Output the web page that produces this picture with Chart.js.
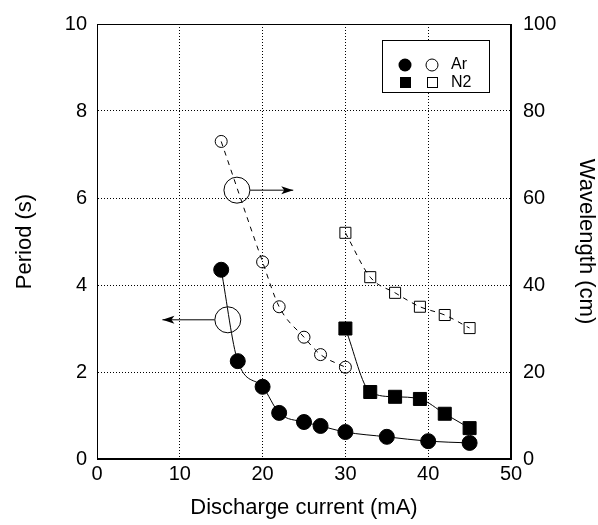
<!DOCTYPE html>
<html><head><meta charset="utf-8">
<script src="https://cdn.jsdelivr.net/npm/chart.js@4.4.1/dist/chart.umd.min.js"></script>
<style>html,body{margin:0;padding:0;background:#fff}</style>
</head><body>
<canvas id="c" width="598" height="525"></canvas>
<script>
// ---- data ----
const arCurrent     = [15, 17, 20, 22, 25, 27, 30, 35, 40, 45];
const arPeriod      = [4.35, 2.25, 1.66, 1.06, 0.85, 0.76, 0.62, 0.51, 0.41, 0.37];
const arWaveCurrent = [15, 20, 22, 25, 27, 30];
const arWavelength  = [73, 45.3, 35, 28, 24, 21.1];
const n2Current     = [30, 33, 36, 39, 42, 45];
const n2Period      = [3.0, 1.54, 1.43, 1.38, 1.04, 0.71];
const n2Wavelength  = [52, 41.8, 38.2, 35, 33.1, 30.1];
const xTicks = [0, 10, 20, 30, 40, 50];
const yTicks = [0, 2, 4, 6, 8, 10];
const y2Ticks = [0, 20, 40, 60, 80, 100];
// annotation markers (circle centre) and arrow (start, tip)
const periodMarker = [15.8, 3.2];
const periodArrowX = [14.2, 7.9];
const waveMarker = [16.9, 61.8];
const waveArrowX = [18.5, 23.7];

const FONT = '"Liberation Sans", Arial, Helvetica, sans-serif';
const pts = (xs, ys) => xs.map((x, i) => ({x, y: ys[i]}));

const lineBase = {showLine: true, borderColor: '#000', borderWidth: 1, cubicInterpolationMode: 'monotone', pointBorderColor: '#000', pointBorderWidth: 1};

const datasets = [
  Object.assign({}, lineBase, {label: 'Ar period', data: pts(arCurrent, arPeriod), yAxisID: 'y', pointStyle: 'circle', pointRadius: 7.5, pointBackgroundColor: '#000'}),
  Object.assign({}, lineBase, {label: 'Ar wavelength', data: pts(arWaveCurrent, arWavelength), yAxisID: 'y2', borderDash: [5, 5], pointStyle: 'circle', pointRadius: 6, pointBackgroundColor: 'rgba(0,0,0,0)'}),
  Object.assign({}, lineBase, {label: 'N2 period', data: pts(n2Current, n2Period), yAxisID: 'y', pointStyle: 'rect', pointRadius: 9.2, pointBackgroundColor: '#000'}),
  Object.assign({}, lineBase, {label: 'N2 wavelength', data: pts(n2Current, n2Wavelength), yAxisID: 'y2', borderDash: [5, 5], pointStyle: 'rect', pointRadius: 7.8, pointBackgroundColor: 'rgba(0,0,0,0)'}),
  {label: 'period marker', data: [{x: periodMarker[0], y: periodMarker[1]}], yAxisID: 'y', pointRadius: 13, pointBorderColor: '#000', pointBorderWidth: 1, pointBackgroundColor: 'rgba(0,0,0,0)'},
  {label: 'period arrow', data: periodArrowX.map(x => ({x, y: periodMarker[1]})), yAxisID: 'y', showLine: true, borderColor: '#000', borderWidth: 1, pointRadius: 0},
  {label: 'wave marker', data: [{x: waveMarker[0], y: waveMarker[1]}], yAxisID: 'y2', pointRadius: 13, pointBorderColor: '#000', pointBorderWidth: 1, pointBackgroundColor: 'rgba(0,0,0,0)'},
  {label: 'wave arrow', data: waveArrowX.map(x => ({x, y: waveMarker[1]})), yAxisID: 'y2', showLine: true, borderColor: '#000', borderWidth: 1, pointRadius: 0}
];

const extras = {
  id: 'extras',
  afterDatasetsDraw(chart) {
    const ctx = chart.ctx, xs = chart.scales.x;
    // arrowheads
    const heads = [
      [xs.getPixelForValue(periodArrowX[1]), chart.scales.y.getPixelForValue(periodMarker[1]), -1],
      [xs.getPixelForValue(waveArrowX[1]), chart.scales.y2.getPixelForValue(waveMarker[1]), 1]
    ];
    ctx.save();
    ctx.fillStyle = '#000';
    heads.forEach(([px, py, d]) => {
      ctx.beginPath();
      ctx.moveTo(px, py);
      ctx.lineTo(px - d * 12, py - 4);
      ctx.lineTo(px - d * 9, py);
      ctx.lineTo(px - d * 12, py + 4);
      ctx.closePath();
      ctx.fill();
    });
    ctx.restore();
  },
  afterDraw(chart) {
    const ctx = chart.ctx, a = chart.chartArea;
    ctx.save();
    ctx.strokeStyle = '#000';
    ctx.lineWidth = 1;
    ctx.strokeRect(Math.round(a.left) + 0.5, Math.round(a.top) + 0.5, Math.round(a.right - a.left) - 1, Math.round(a.bottom - a.top) - 1);
    // legend
    const bx = 382.5, by = 40.5, bw = 107, bh = 52;
    ctx.fillStyle = '#fff';
    ctx.fillRect(bx, by, bw, bh);
    ctx.strokeRect(bx, by, bw, bh);
    ctx.fillStyle = '#000';
    ctx.beginPath(); ctx.arc(405, 65, 6.5, 0, Math.PI * 2); ctx.fill();
    ctx.beginPath(); ctx.arc(432, 65, 6, 0, Math.PI * 2); ctx.stroke();
    ctx.fillRect(400, 77, 11, 11);
    ctx.strokeRect(427.5, 77.5, 10, 10);
    ctx.font = '16px ' + FONT;
    ctx.textBaseline = 'middle';
    ctx.textAlign = 'left';
    ctx.fillText('Ar', 451, 65);
    ctx.fillText('N2', 451, 83);
    ctx.restore();
  }
};

const tickFont = {family: FONT, size: 20};
const titleFont = {family: FONT, size: 22, lineHeight: 1};

new Chart(document.getElementById('c'), {
  type: 'scatter',
  data: {datasets},
  plugins: [extras],
  options: {
    responsive: false, animation: false, devicePixelRatio: 1,
    layout: {padding: {top: 24, left: 0, right: 0, bottom: 0}},
    plugins: {legend: {display: false}, tooltip: {enabled: false}},
    scales: {
      x: {
        type: 'linear', min: 0, max: 50,
        afterBuildTicks: s => { s.ticks = xTicks.map(v => ({value: v})); },
        ticks: {padding: 3, font: tickFont, color: '#000'},
        grid: {color: '#000', lineWidth: 1, drawTicks: false},
        border: {display: true, color: '#000', width: 1, dash: [1, 2]},
        title: {display: true, text: 'Discharge current (mA)', font: titleFont, color: '#000', padding: {top: 0, bottom: 6}},
        afterFit: s => { s.height = 66; }
      },
      y: {
        type: 'linear', position: 'left', min: 0, max: 10,
        afterBuildTicks: s => { s.ticks = yTicks.map(v => ({value: v})); },
        ticks: {padding: 10, font: tickFont, color: '#000'},
        grid: {color: '#000', lineWidth: 1, drawTicks: false},
        border: {display: true, color: '#000', width: 1, dash: [1, 2]},
        title: {display: true, text: 'Period (s)', font: titleFont, color: '#000', padding: {top: 14, bottom: 0}},
        afterFit: s => { s.width = 97; }
      },
      y2: {
        type: 'linear', position: 'right', min: 0, max: 100,
        afterBuildTicks: s => { s.ticks = y2Ticks.map(v => ({value: v})); },
        ticks: {padding: 12, font: tickFont, color: '#000'},
        grid: {drawOnChartArea: false, drawTicks: false},
        border: {display: true, color: '#000', width: 1},
        title: {display: true, text: 'Wavelength (cm)', font: titleFont, color: '#000', padding: {top: 1, bottom: 0}},
        afterFit: s => { s.width = 87; }
      }
    }
  }
});
</script>
</body></html>
